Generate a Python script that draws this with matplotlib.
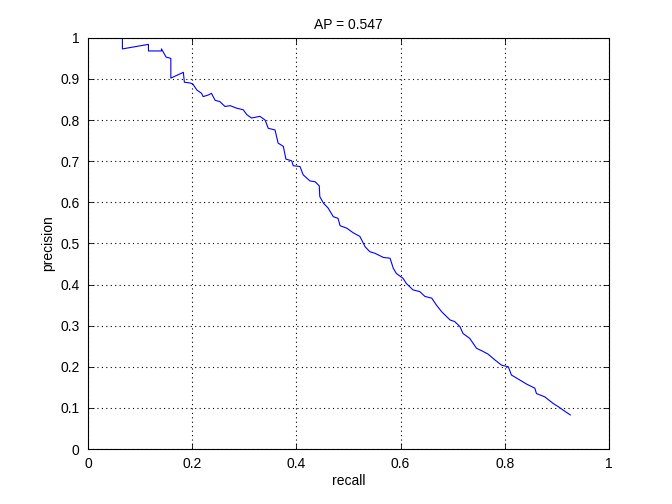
import numpy as np
import matplotlib
matplotlib.use('Agg')
import matplotlib.pyplot as plt

# precision / recall values
recall = [0.066, 0.066, 0.116, 0.116, 0.141, 0.141, 0.150, 0.159, 0.159, 0.183, 0.185,
          0.196, 0.201, 0.209, 0.218, 0.221, 0.231, 0.237, 0.244, 0.253, 0.263, 0.273,
          0.285, 0.298, 0.305, 0.314, 0.330, 0.340, 0.343, 0.346, 0.359, 0.365, 0.375,
          0.380, 0.391, 0.394, 0.407, 0.413, 0.426, 0.436, 0.444, 0.445, 0.452, 0.461,
          0.471, 0.480, 0.484, 0.497, 0.509, 0.522, 0.532, 0.541, 0.551, 0.567, 0.580,
          0.586, 0.592, 0.605, 0.611, 0.624, 0.637, 0.647, 0.660, 0.669, 0.679, 0.695,
          0.704, 0.714, 0.720, 0.733, 0.746, 0.756, 0.768, 0.781, 0.794, 0.807, 0.813,
          0.829, 0.842, 0.858, 0.861, 0.877, 0.893, 0.903, 0.912, 0.926]
precision = [1.000, 0.973, 0.984, 0.968, 0.968, 0.973, 0.953, 0.950, 0.902, 0.916, 0.892,
             0.890, 0.888, 0.873, 0.865, 0.857, 0.861, 0.865, 0.848, 0.845, 0.833, 0.835,
             0.829, 0.825, 0.813, 0.805, 0.809, 0.800, 0.790, 0.780, 0.776, 0.744, 0.736,
             0.705, 0.701, 0.689, 0.687, 0.667, 0.652, 0.650, 0.640, 0.614, 0.598, 0.586,
             0.565, 0.561, 0.543, 0.537, 0.526, 0.517, 0.492, 0.480, 0.476, 0.466, 0.464,
             0.440, 0.427, 0.415, 0.403, 0.387, 0.383, 0.371, 0.367, 0.350, 0.334, 0.314,
             0.310, 0.298, 0.281, 0.269, 0.245, 0.239, 0.231, 0.217, 0.204, 0.200, 0.180,
             0.168, 0.158, 0.148, 0.135, 0.127, 0.111, 0.103, 0.095, 0.083]
ap = 0.547

xticks = [0, 0.2, 0.4, 0.6, 0.8, 1]
xlabels = ['0', '0.2', '0.4', '0.6', '0.8', '1']
yticks = [0, 0.1, 0.2, 0.3, 0.4, 0.5, 0.6, 0.7, 0.8, 0.9, 1]
ylabels = ['0', '0.1', '0.2', '0.3', '0.4', '0.5', '0.6', '0.7', '0.8', '0.9', '1']

plt.rcParams['font.family'] = ['Liberation Sans', 'DejaVu Sans']
plt.rcParams['font.size'] = 10

fig = plt.figure(figsize=(6.72, 5.04), dpi=100)
ax = fig.add_axes([0.131, 0.109, 0.775, 0.816])
ax.plot(recall, precision, color='#0000ff', linewidth=0.8)
ax.set_xlim(0, 1)
ax.set_ylim(0, 1)
ax.set_xticks(xticks)
ax.set_xticklabels(xlabels)
ax.set_yticks(yticks)
ax.set_yticklabels(ylabels)
ax.tick_params(direction='in', top=True, right=True, length=4, width=0.6, pad=6)
ax.grid(True, linestyle=(0, (1, 3)), color='black', linewidth=0.8)
for s in ax.spines.values():
    s.set_linewidth(0.8)
ax.set_xlabel('recall', labelpad=2)
ax.set_ylabel('precision', labelpad=4)
ax.set_title('AP = %.3f' % ap, fontsize=10, pad=6)
fig.savefig('out.png', dpi=100)
